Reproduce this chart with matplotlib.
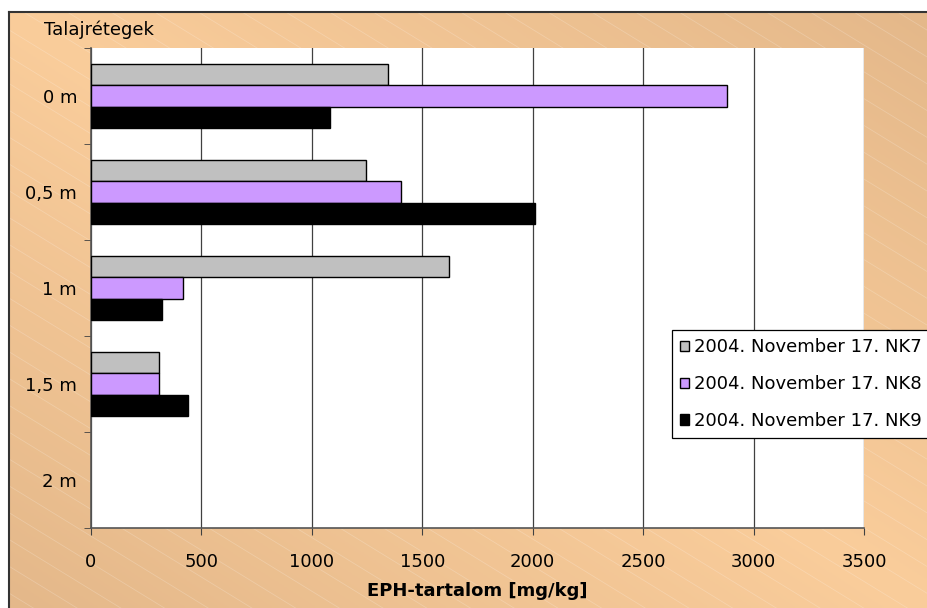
import numpy as np
import matplotlib.pyplot as plt
from matplotlib.lines import Line2D

plt.rcParams['font.family'] = ['DejaVu Sans']

depths = ['0 m', '0,5 m', '1 m', '1,5 m', '2 m']
nk7 = [1345, 1245, 1620, 310, 0]
nk8 = [2880, 1405, 415, 308, 0]
nk9 = [1080, 2010, 320, 440, 0]
labels = ['2004. November 17. NK7', '2004. November 17. NK8', '2004. November 17. NK9']
colors = ['#c0c0c0', '#cc99ff', '#000000']

W, H = 927, 608
fig = plt.figure(figsize=(W / 100, H / 100), dpi=100)
fig.patch.set_facecolor('white')

# background panel with diagonal gradient
bg = fig.add_axes([9 / W, 0, 1 - 9 / W, 1 - 12 / H])
bg.axis('off')
gx, gy = np.meshgrid(np.linspace(0, 1, 300), np.linspace(0, 1, 200))
g = np.abs(gx - gy)
light = np.array([250, 205, 155]) / 255
dark = np.array([228, 184, 138]) / 255
img = light[None, None, :] * (1 - g[..., None]) + dark[None, None, :] * g[..., None]
bg.imshow(img, extent=[0, 1, 0, 1], origin='upper', aspect='auto', zorder=0)
# faint hatch lines
for c in np.arange(-2.0, 2.0, 0.045):
    xs = np.array([0, 1])
    bg.plot(xs, c - 0.62 * xs * (W / H), color='white', lw=0.6, alpha=0.2, zorder=1)
bg.set_xlim(0, 1)
bg.set_ylim(0, 1)
fig.add_artist(Line2D([9 / W, 9 / W], [0, 1 - 12 / H], transform=fig.transFigure, color='#333333', lw=1.5))
fig.add_artist(Line2D([9 / W, 1], [1 - 12 / H, 1 - 12 / H], transform=fig.transFigure, color='#333333', lw=1.5))

ax = fig.add_axes([91 / W, 1 - 528 / H, (864 - 91) / W, (528 - 48) / H])
ax.set_facecolor('white')

y = np.arange(len(depths))
h = 2 / 9
for i, (vals, col, lab) in enumerate(zip([nk7, nk8, nk9], colors, labels)):
    bars = ax.barh(y + (i - 1) * h, vals, height=h, color=col, edgecolor='black', linewidth=1.0, label=lab, zorder=3)
    for b in bars:
        if b.get_width() == 0:
            b.set_visible(False)

ax.set_xlim(0, 3500)
ax.set_ylim(4.5, -0.5)
ax.set_xticks(np.arange(0, 3501, 500))
ax.grid(axis='x', color='#404040', lw=0.9, zorder=1)
ax.set_yticks(y)
ax.set_yticklabels(depths)
ax.set_yticks(np.arange(-0.5, 4.6, 1), minor=True)
ax.tick_params(axis='y', which='major', length=0, pad=10, labelsize=13)
ax.tick_params(axis='y', which='minor', length=5, color='#404040', direction='out')
ax.tick_params(axis='x', length=5, color='#404040', pad=13, labelsize=13)
for s in ['top', 'right']:
    ax.spines[s].set_visible(False)
for s in ['left', 'bottom']:
    ax.spines[s].set_color('#555555')
    ax.spines[s].set_linewidth(1.2)

ax.set_xlabel('EPH-tartalom [mg/kg]', fontsize=13, fontweight='bold', labelpad=8)
fig.text(44 / W, 1 - 30 / H, 'Talajrétegek', fontsize=13, va='center', ha='left')

leg = ax.legend(loc='upper left', bbox_to_anchor=(672 / W, 1 - 330 / H), bbox_transform=fig.transFigure,
                fontsize=13, frameon=True, fancybox=False, edgecolor='black', framealpha=1,
                handlelength=0.5, handleheight=0.5, handletextpad=0.25, labelspacing=1.05,
                borderpad=0.45, borderaxespad=0)
leg.get_frame().set_linewidth(0.9)

fig.savefig('out.png', dpi=100)
